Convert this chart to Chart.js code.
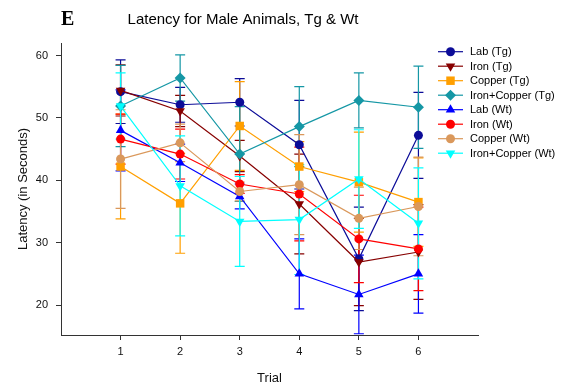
<!DOCTYPE html>
<html lang="en">
<head>
<meta charset="UTF-8">
<title>Latency for Male Animals, Tg &amp; Wt</title>
<style>
    body { margin: 0; padding: 0; background: #fff; }
    #wrap { width: 570px; height: 387px; }
</style>
</head>
<body>
<div id="wrap"><canvas id="latencyChart" width="570" height="387"></canvas></div>
<script src="https://cdn.jsdelivr.net/npm/chart.js"></script>
<script>
// Mean latency (s) per trial, with standard error
const trials = [1, 2, 3, 4, 5, 6];
const yTicks = [20, 30, 40, 50, 60];

const labTg = [54.2, 52.1, 52.5, 45.7, 27.4, 47.2];
const labTgErr = [5.1, 2.8, 3.8, 7.1, 8.3, 6.9];
const ironTg = [54.4, 51.1, 43.9, 36.2, 26.9, 28.5];
const ironTgErr = [4.1, 2.5, 2.5, 8.0, 7.0, 7.6];
const copperTg = [42.2, 36.3, 48.7, 42.2, 39.7, 36.5];
const copperTgErr = [8.4, 8.0, 7.1, 4.0, 8.0, 7.1];
const ironCopperTg = [51.9, 56.4, 44.2, 48.6, 52.8, 51.7];
const ironCopperTgErr = [6.5, 3.7, 7.6, 6.4, 4.4, 6.6];
const labWt = [48.0, 42.8, 37.4, 25.0, 21.7, 25.0];
const labWtErr = [6.5, 3.0, 2.0, 5.6, 6.3, 6.3];
const ironWt = [46.6, 44.2, 39.4, 37.8, 30.6, 29.0];
const ironWtErr = [4.0, 4.0, 1.5, 7.5, 7.0, 6.7];
const copperWt = [43.4, 46.0, 38.2, 39.3, 33.9, 35.8];
const copperWtErr = [7.9, 3.0, 1.5, 8.0, 5.0, 7.9];
const ironCopperWt = [51.9, 39.1, 33.4, 33.7, 40.2, 33.1];
const ironCopperWtErr = [5.3, 8.0, 7.2, 8.8, 7.9, 8.9];

const series = [
    { label: 'Lab (Tg)', values: labTg, err: labTgErr, color: '#0c0c98', style: 'circle', rot: 0, r: 4.5 },
    { label: 'Iron (Tg)', values: ironTg, err: ironTgErr, color: '#870000', style: 'triangle', rot: 180, r: 5.5 },
    { label: 'Copper (Tg)', values: copperTg, err: copperTgErr, color: '#ff9f00', style: 'rect', rot: 0, r: 6 },
    { label: 'Iron+Copper (Tg)', values: ironCopperTg, err: ironCopperTgErr, color: '#1597a5', style: 'rectRot', rot: 0, r: 5.5 },
    { label: 'Lab (Wt)', values: labWt, err: labWtErr, color: '#0000ff', style: 'triangle', rot: 0, r: 5.5 },
    { label: 'Iron (Wt)', values: ironWt, err: ironWtErr, color: '#ff0000', style: 'circle', rot: 0, r: 4.5 },
    { label: 'Copper (Wt)', values: copperWt, err: copperWtErr, color: '#da985b', style: 'circle', rot: 0, r: 4.5 },
    { label: 'Iron+Copper (Wt)', values: ironCopperWt, err: ironCopperWtErr, color: '#00ffff', style: 'triangle', rot: 180, r: 5.5 }
];

const FONT = 'Arial, "Liberation Sans", sans-serif';

// vertical error bars with caps, drawn before the lines
const errorBars = {
    id: 'errorBars',
    beforeDatasetsDraw(chart) {
        const { ctx, scales: { x, y } } = chart;
        chart.data.datasets.forEach(ds => {
            ctx.save();
            ctx.strokeStyle = ds.borderColor;
            ctx.lineWidth = 1.2;
            ds.data.forEach((p, j) => {
                const e = ds.errors[j];
                const px = x.getPixelForValue(p.x);
                const top = y.getPixelForValue(p.y + e);
                const bot = y.getPixelForValue(p.y - e);
                ctx.beginPath();
                ctx.moveTo(px, top); ctx.lineTo(px, bot);
                ctx.moveTo(px - 5, top); ctx.lineTo(px + 5, top);
                ctx.moveTo(px - 5, bot); ctx.lineTo(px + 5, bot);
                ctx.stroke();
            });
            ctx.restore();
        });
    }
};

// panel letter, title and the legend on the right
const decorations = {
    id: 'decorations',
    afterDraw(chart) {
        const ctx = chart.ctx;
        ctx.save();
        ctx.fillStyle = '#000';
        ctx.textBaseline = 'middle';
        ctx.font = 'bold 20px "Liberation Serif", "Times New Roman", serif';
        ctx.textAlign = 'left';
        ctx.fillText('E', 61, 20);
        ctx.font = '15px ' + FONT;
        ctx.textAlign = 'center';
        ctx.fillText('Latency for Male Animals, Tg & Wt', 243, 20);

        ctx.font = '11px ' + FONT;
        ctx.textAlign = 'left';
        chart.data.datasets.forEach((ds, i) => {
            const ly = 51.7 + i * 14.5;
            ctx.strokeStyle = ds.borderColor;
            ctx.lineWidth = 1.2;
            ctx.beginPath();
            ctx.moveTo(438, ly);
            ctx.lineTo(463, ly);
            ctx.stroke();
            ctx.fillStyle = ds.borderColor;
            Chart.helpers.drawPoint(ctx, {
                pointStyle: ds.pointStyle,
                rotation: ds.pointRotation,
                radius: ds.pointRadius,
                borderWidth: 0
            }, 450.5, ly);
            ctx.fillStyle = '#000';
            ctx.fillText(ds.label, 470, ly + 0.5);
        });
        ctx.restore();
    }
};

const ctx = document.getElementById('latencyChart').getContext('2d');
const latencyChart = new Chart(ctx, {
    type: 'line',
    data: {
        datasets: series.map((s, i) => ({
            label: s.label,
            data: trials.map((t, j) => ({ x: t, y: s.values[j] })),
            errors: s.err,
            borderColor: s.color,
            backgroundColor: s.color,
            borderWidth: 1.2,
            pointStyle: s.style,
            pointRotation: s.rot,
            pointRadius: s.r,
            pointBorderWidth: 0,
            pointHoverRadius: s.r,
            tension: 0,
            order: series.length - i
        }))
    },
    options: {
        responsive: false,
        animation: false,
        devicePixelRatio: 1,
        layout: { padding: { top: 43, right: 92, left: 0, bottom: 0 } },
        plugins: {
            legend: { display: false },
            title: { display: false },
            tooltip: { enabled: false }
        },
        scales: {
            x: {
                type: 'linear',
                min: 0,
                max: 7,
                afterBuildTicks: scale => { scale.ticks = trials.map(v => ({ value: v })); },
                afterFit: scale => { scale.height = 52; },
                border: { display: true, color: '#333', width: 1 },
                grid: { drawOnChartArea: false, drawTicks: true, tickLength: 5, color: '#333' },
                ticks: { color: '#111', font: { family: FONT, size: 11 }, padding: 5, maxRotation: 0 },
                title: { display: true, text: 'Trial', color: '#111', font: { family: FONT, size: 13 }, padding: { top: 0, bottom: 1 } }
            },
            y: {
                type: 'linear',
                min: 15.2,
                max: 62,
                afterBuildTicks: scale => { scale.ticks = yTicks.map(v => ({ value: v })); },
                afterFit: scale => { scale.width = 61; },
                border: { display: true, color: '#333', width: 1 },
                grid: { drawOnChartArea: false, drawTicks: true, tickLength: 5, color: '#333' },
                ticks: { color: '#111', font: { family: FONT, size: 11 }, padding: 8 },
                title: { display: true, text: 'Latency (in Seconds)', color: '#111', font: { family: FONT, size: 13 }, padding: { top: 16, bottom: 0 } }
            }
        }
    },
    plugins: [errorBars, decorations]
});
</script>
</body>
</html>
